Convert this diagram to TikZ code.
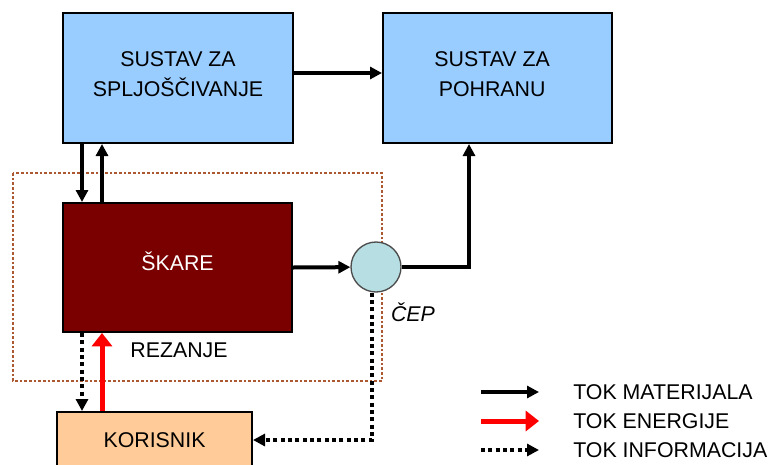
\documentclass[tikz,border=0pt]{standalone}
\usepackage{fontspec}
\setmainfont{Liberation Sans}
\usepackage{tikz}
\usetikzlibrary{positioning,arrows.meta}

\definecolor{boxblue}{RGB}{153,204,255}
\definecolor{skarered}{RGB}{122,0,0}
\definecolor{korpeach}{RGB}{255,204,153}
\definecolor{cepcyan}{RGB}{183,222,226}
\definecolor{rezbrown}{RGB}{172,88,48}

\tikzset{
  blok/.style={draw=black, line width=1.5pt, inner sep=0pt,
    minimum width=172.5pt, minimum height=97.5pt},
  lbl/.style={inner sep=0pt, align=center, font=\fontsize{16}{23}\selectfont},
  mat/.style={draw=black, line width=3pt, -{Triangle[length=9pt,width=9pt]}},
  energy/.style={draw=red, line width=3.75pt, -{Triangle[length=10pt,width=15pt]}},
  info/.style={draw=black, line width=3pt, dash pattern=on 3pt off 2.5pt,
    -{Triangle[length=9pt,width=9pt]}},
}

\begin{document}
\begin{tikzpicture}[x=0.75pt,y=0.75pt,yscale=-1,xscale=1]
\useasboundingbox (0,0) rectangle (773,464);

%Shape: Rectangle [rezanje area]
\draw [rezbrown, line width=1.6pt, dash pattern=on 2pt off 1.5pt] (13,173) rectangle (382,381);

%Shapes: blocks
\node [blok, fill=boxblue] (spljos) at (178,78) {};
\node [blok, fill=boxblue, minimum width=171.75pt] (pohrana) at (497.5,78) {};
\node [blok, fill=skarered, minimum width=171.75pt, minimum height=96.75pt] (skare) at (177.5,267.5) {};
\node [blok, fill=korpeach, minimum width=146.25pt, minimum height=42pt] (korisnik) at (154.5,440) {};
\node [circle, draw=black!70, line width=1pt, fill=cepcyan, minimum size=37.5pt, inner sep=0pt] (cep) at (376,267) {};

% Text Node (yshift runs downwards here, yscale=-1)
\node [lbl] (spljostxt) at ([yshift=-3pt]spljos.center) {SUSTAV ZA\\SPLJOŠČIVANJE};
% Text Node
\node [lbl] (pohranatxt) at ([yshift=-3pt,xshift=-4pt]pohrana.center) {SUSTAV ZA\\POHRANU};
% Text Node
\node [lbl, text=white] (skaretxt) at ([yshift=-4.5pt]skare.center) {ŠKARE};
% Text Node
\node [lbl] (korisniktxt) at (korisnik.center) {KORISNIK};
% Text Node
\node [lbl] (ceplbl) at (413,312) {\itshape ČEP};
% Text Node
\node [lbl] (rezanje) at (179,350) {REZANJE};

%Helper points
\coordinate (matdown) at ([xshift=15pt]spljos.south west);
\coordinate (matup) at ([xshift=30pt]spljos.south west);
\coordinate (infodown) at ([xshift=15pt]skare.south west);
\coordinate (enerup) at ([xshift=30pt]skare.south west);
\coordinate (pohin) at ([xshift=65.25pt]pohrana.south west);

%Straight Lines: material flow
\draw [mat] ([yshift=-3.75pt]spljos.east) -- ([yshift=-3.75pt]pohrana.west);
\draw [mat] (matdown) -- (matdown |- skare.north);
\draw [mat] (matup |- skare.north) -- (matup);
\draw [mat] (skare.east) -- (cep);
\draw [mat] (cep.east) -| (pohin);

%Straight Lines: energy flow
\draw [energy] (enerup |- korisnik.north) -- (enerup);

%Straight Lines: information flow
\draw [info] (infodown) -- (infodown |- korisnik.north);
\draw [info] ([xshift=-3pt]cep.south) |- (korisnik.east);

%Legend
\coordinate (legmat) at (481,392);
\coordinate (legen) at (481,421);
\coordinate (leginf) at (481,450);
\node [lbl, anchor=west] (legmattxt) at (573,392) {TOK MATERIJALA};
\node [lbl, anchor=west] (legentxt) at (573,421) {TOK ENERGIJE};
\node [lbl, anchor=west] (leginftxt) at (573,450) {TOK INFORMACIJA};
\draw [mat] (legmat) -- ++(58,0);
\draw [energy] (legen) -- ++(58,0);
\draw [info] (leginf) -- ++(58,0);

\end{tikzpicture}
\end{document}
